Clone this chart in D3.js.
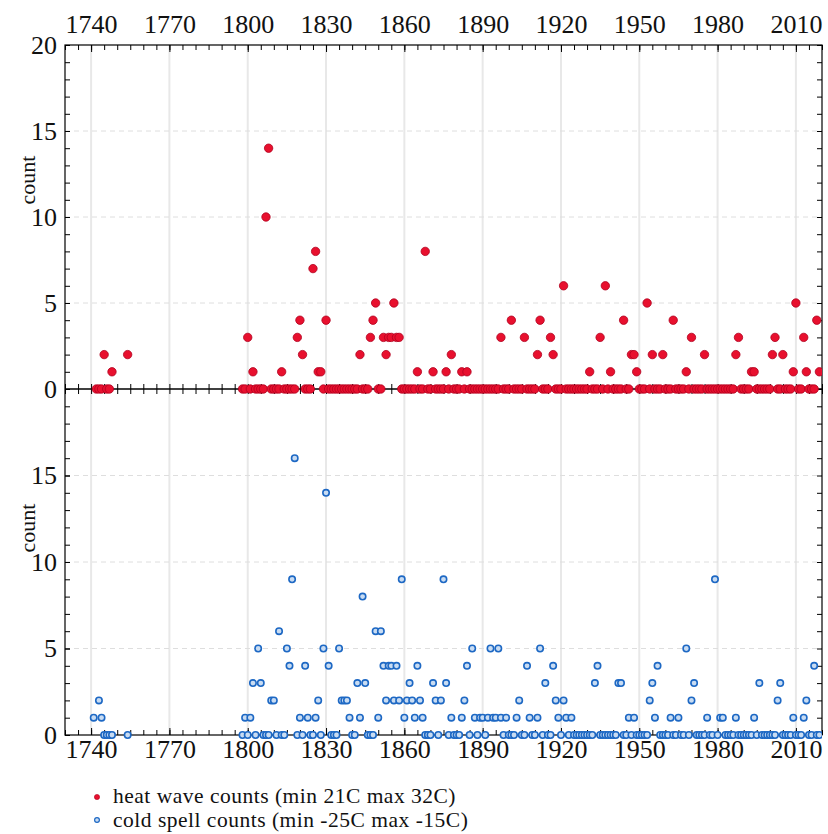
<!DOCTYPE html>
<html><head><meta charset="utf-8">
<script src="https://cdn.jsdelivr.net/npm/d3@7"></script>
<style>
body{margin:0;background:#fff}
svg{display:block}
text{font-family:"Liberation Serif","Times New Roman",serif;fill:#111}
</style>
</head><body>
<svg id="c" width="828" height="834"></svg>
<script>
// ---- data ----
const heatEarlyYears  = [1742,1743,1744,1745,1746,1747,1748,1754];
const heatEarlyValues = [0,0,0,2,0,0,1,2];
const coldEarlyYears  = [1741,1743,1744,1745,1746,1747,1748,1754];
const coldEarlyValues = [1,2,1,0,0,0,0,0];

const mainFirstYear = 1798, mainLastYear = 2019;
// one value per year, 1798 ... 2019
const heatValues = [
  0,0,                                   // 1798-1799
  3,0,1,0,0,0,0,10,14,0,                 // 1800s
  0,0,0,1,0,0,0,0,0,3,                   // 1810s
  4,2,0,0,0,7,8,1,1,0,                   // 1820s
  4,0,0,0,0,0,0,0,0,0,                   // 1830s
  0,0,0,2,0,0,0,3,4,5,                   // 1840s
  0,0,3,2,3,3,5,3,3,0,                   // 1850s
  0,0,0,0,0,1,0,0,8,0,                   // 1860s
  0,1,0,0,0,0,1,0,2,0,                   // 1870s
  0,0,1,0,1,0,0,0,0,0,                   // 1880s
  0,0,0,0,0,0,0,3,0,0,                   // 1890s
  0,4,0,0,0,0,3,0,0,0,                   // 1900s
  0,2,4,0,0,0,3,2,0,0,                   // 1910s
  0,6,0,0,0,0,0,0,0,0,                   // 1920s
  0,1,0,0,0,3,0,6,0,1,                   // 1930s
  0,0,0,0,4,0,0,2,2,1,                   // 1940s
  0,0,0,5,0,2,0,0,0,2,                   // 1950s
  0,0,0,4,0,0,0,0,1,0,                   // 1960s
  3,0,0,0,0,2,0,0,0,0,                   // 1970s
  0,0,0,0,0,0,0,2,3,0,                   // 1980s
  0,0,0,1,1,0,0,0,0,0,                   // 1990s
  0,2,3,0,0,2,0,0,0,1,                   // 2000s
  5,0,0,3,1,0,0,0,4,1                    // 2010s
];
const coldValues = [
  0,1,                                   // 1798-1799
  0,1,3,0,5,3,0,0,0,2,                   // 1800s
  2,0,6,0,0,5,4,9,16,0,                  // 1810s
  1,0,4,1,0,0,1,2,0,5,                   // 1820s
  14,4,0,0,0,5,2,2,2,1,                  // 1830s
  0,0,3,1,8,3,0,0,0,6,                   // 1840s
  1,6,4,2,4,4,2,4,2,9,                   // 1850s
  1,2,3,2,1,4,2,1,0,0,                   // 1860s
  0,3,2,0,2,9,3,0,1,0,                   // 1870s
  0,0,1,2,4,0,5,1,0,1,                   // 1880s
  1,0,1,5,1,1,5,1,0,1,                   // 1890s
  0,0,0,1,2,0,0,4,1,0,                   // 1900s
  0,1,5,0,3,0,0,4,2,1,                   // 1910s
  0,2,1,0,1,0,0,0,0,0,                   // 1920s
  0,0,0,3,4,0,0,0,0,0,                   // 1930s
  0,0,3,3,0,0,1,0,1,0,                   // 1940s
  0,0,0,0,2,3,1,4,0,0,                   // 1950s
  0,0,1,0,0,1,0,0,5,0,                   // 1960s
  2,3,0,0,0,0,1,0,0,9,                   // 1970s
  0,1,1,0,0,0,0,1,0,0,                   // 1980s
  0,0,0,0,1,0,3,0,0,0,                   // 1990s
  0,0,0,2,3,0,0,0,0,1,                   // 2000s
  0,0,0,1,2,0,0,4,0,0                    // 2010s
];
const xTickLabels = [1740,1770,1800,1830,1860,1890,1920,1950,1980,2010];
const yTickLabelsTop = [0,5,10,15,20];
const yTickLabelsBottom = [0,5,10,15];
const legendLabels = ["heat wave counts (min 21C max 32C)", "cold spell counts (min -25C max -15C)"];
const yLabel = "count";

// ---- build series ----
const mainYears = d3.range(mainFirstYear, mainLastYear + 1);
const heat = heatEarlyYears.map((y,i)=>({year:y,v:heatEarlyValues[i]}))
  .concat(mainYears.map((y,i)=>({year:y,v:heatValues[i]})));
const cold = coldEarlyYears.map((y,i)=>({year:y,v:coldEarlyValues[i]}))
  .concat(mainYears.map((y,i)=>({year:y,v:coldValues[i]})));

// ---- layout ----
const L = 65, R = 822, T = 45, MID = 389, B = 735;
const svg = d3.select("#c");
const x = d3.scaleLinear().domain([1730, 2020]).range([L, R]);
const yTop = d3.scaleLinear().domain([0, 20]).range([MID, T]);
const yBot = d3.scaleLinear().domain([0, 20]).range([B, MID]);

const FS = 26;
const minorYears = d3.range(1730, 2021, 5);

// gridlines
const grid = svg.append("g");
grid.selectAll("line.v").data(xTickLabels).join("line")
  .attr("x1", d=>x(d)).attr("x2", d=>x(d)).attr("y1", T).attr("y2", B)
  .attr("stroke", "#e8e8e8").attr("stroke-width", 2);
[[yTop,[5,10,15]],[yBot,[5,10,15]]].forEach(([ys,vals])=>{
  grid.selectAll(null).data(vals).join("line")
    .attr("x1", L).attr("x2", R).attr("y1", d=>ys(d)).attr("y2", d=>ys(d))
    .attr("stroke", "#dedede").attr("stroke-width", 1).attr("stroke-dasharray", "5,4");
});

function styleAxis(g){
  g.select(".domain").remove();
  g.selectAll(".tick line").attr("stroke", "#000").attr("stroke-width", 1);
  g.selectAll("text").attr("font-size", FS).attr("fill", "#111")
   .attr("font-family", "Liberation Serif, Times New Roman, serif");
}

// top x axis (labels + inward ticks)
svg.append("g").attr("transform", `translate(0,${T})`)
  .call(d3.axisTop(x).tickValues(minorYears).tickSize(-5).tickFormat(()=>""))
  .call(styleAxis);
svg.append("g").attr("transform", `translate(0,${T})`)
  .call(d3.axisTop(x).tickValues(xTickLabels).tickSize(-7).tickPadding(12).tickFormat(d3.format("d")))
  .call(styleAxis);
// bottom x axis
svg.append("g").attr("transform", `translate(0,${B})`)
  .call(d3.axisBottom(x).tickValues(minorYears).tickSize(-5).tickFormat(()=>""))
  .call(styleAxis);
svg.append("g").attr("transform", `translate(0,${B})`)
  .call(d3.axisBottom(x).tickValues(xTickLabels).tickSize(-7).tickPadding(5).tickFormat(d3.format("d")))
  .call(styleAxis);
// middle axis: ticks on both sides
svg.append("g").attr("transform", `translate(0,${MID})`)
  .call(d3.axisBottom(x).tickValues(minorYears).tickSize(-5).tickFormat(()=>""))
  .call(styleAxis);
svg.append("g").attr("transform", `translate(0,${MID})`)
  .call(d3.axisTop(x).tickValues(minorYears).tickSize(-5).tickFormat(()=>""))
  .call(styleAxis);

// y axes
const unitTicks = d3.range(0, 21, 1);
[[yTop, yTickLabelsTop],[yBot, yTickLabelsBottom]].forEach(([ys, labs])=>{
  svg.append("g").attr("transform", `translate(${L},0)`)
    .call(d3.axisLeft(ys).tickValues(unitTicks).tickSize(-5).tickFormat(()=>""))
    .call(styleAxis);
  svg.append("g").attr("transform", `translate(${L},0)`)
    .call(d3.axisLeft(ys).tickValues(labs).tickSize(-5).tickPadding(8).tickFormat(d3.format("d")))
    .call(styleAxis);
  svg.append("g").attr("transform", `translate(${R},0)`)
    .call(d3.axisRight(ys).tickValues(unitTicks).tickSize(-5).tickFormat(()=>""))
    .call(styleAxis);
});

// frame + middle line
svg.append("rect").attr("x", L).attr("y", T).attr("width", R-L).attr("height", B-T)
  .attr("fill", "none").attr("stroke", "#000").attr("stroke-width", 1.2);
svg.append("line").attr("x1", L).attr("x2", R).attr("y1", MID).attr("y2", MID)
  .attr("stroke", "#000").attr("stroke-width", 1.5);

// marks
const clip = svg.append("clipPath").attr("id","pc").append("rect")
  .attr("x", L).attr("y", T-6).attr("width", R-L).attr("height", B-T+12);
const marks = svg.append("g").attr("clip-path","url(#pc)");
marks.append("g").selectAll("circle").data(heat).join("circle")
  .attr("cx", d=>x(d.year)).attr("cy", d=>yTop(d.v)).attr("r", 4.2)
  .attr("fill", "#e8102e").attr("stroke", "#b0001e").attr("stroke-width", 0.8);
marks.append("g").selectAll("circle").data(cold).join("circle")
  .attr("cx", d=>x(d.year)).attr("cy", d=>yBot(d.v)).attr("r", 3.2)
  .attr("fill", "#c9dcf2").attr("stroke", "#1d68c4").attr("stroke-width", 1.6);

// y labels
[[180],[528]].forEach(([cy])=>{
  svg.append("text").attr("transform", `translate(35,${cy}) rotate(-90)`)
    .attr("text-anchor","middle").attr("font-size", 22).text(yLabel);
});

// legend
const lg = svg.append("g");
lg.append("circle").attr("cx", 97).attr("cy", 797).attr("r", 2.6).attr("fill", "#e8102e").attr("stroke","#b0001e").attr("stroke-width",0.6);
lg.append("circle").attr("cx", 97).attr("cy", 820).attr("r", 2.4).attr("fill", "#c9dcf2").attr("stroke","#1d68c4").attr("stroke-width",1.2);
lg.selectAll("text").data(legendLabels).join("text")
  .attr("x", 113).attr("y", (d,i)=>803 + i*24).attr("font-size", 21.5)
  .attr("letter-spacing", 0.5).text(d=>d);
</script>
</body></html>
